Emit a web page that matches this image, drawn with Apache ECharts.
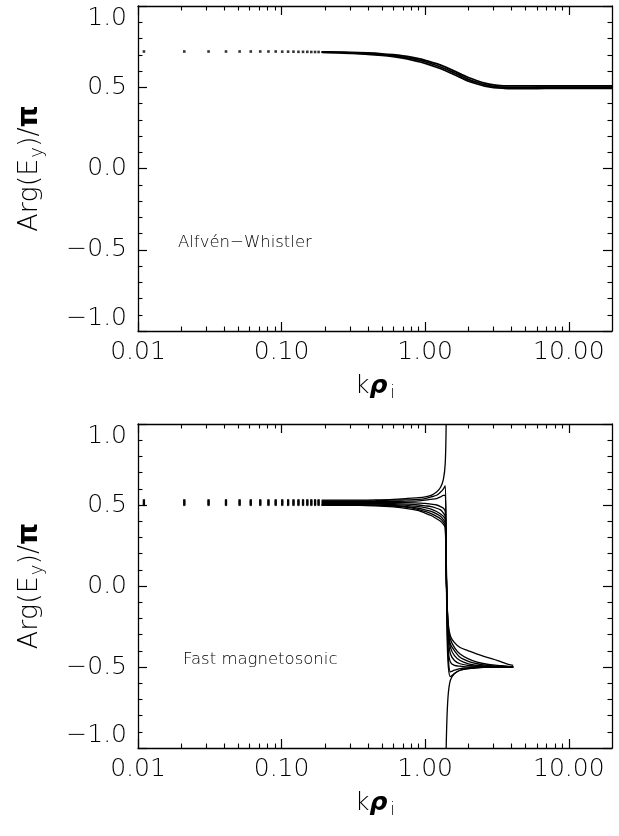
<!DOCTYPE html>
<html>
<head>
<meta charset="utf-8">
<script src="https://cdn.jsdelivr.net/npm/echarts@6/dist/echarts.min.js"></script>
<style>
html,body{margin:0;padding:0;background:#fff;}
#c{width:619px;height:836px;}
</style>
</head>
<body>
<div id="c"></div>
<script>
// ---------- data ----------
const xMajorTicks = [0.01, 0.1, 1, 10];
const xMinorTicks = [0.02,0.03,0.04,0.05,0.06,0.07,0.08,0.09,0.2,0.3,0.4,0.5,0.6,0.7,0.8,0.9,2,3,4,5,6,7,8,9];
const yTicks = [-1, -0.5, 0, 0.5, 1];

// sparse low-k samples (individual dots)
const kDots = [0.011,0.021,0.031,0.041,0.051,0.061,0.071,0.081,0.091,0.101,0.111,0.121,0.131,0.141,0.151,0.161,0.171,0.181];

// Alfven-Whistler panel
const alfvenDots = [0.72,0.72,0.72,0.72,0.72,0.72,0.72,0.72,0.72,0.719,0.719,0.719,0.718,0.718,0.718,0.717,0.717,0.717];
const kAlfven = [0.19,0.25,0.3,0.4,0.5,0.6,0.7,0.8,0.9,1.0,1.2,1.4,1.6,1.8,2.0,2.3,2.6,3.0,3.5,4.0,5.0,6.0,8.0,10,13,16,20];
const alfvenUpper = [0.718,0.716,0.715,0.711,0.706,0.700,0.693,0.685,0.676,0.666,0.645,0.622,0.599,0.578,0.560,0.540,0.525,0.514,0.509,0.508,0.508,0.509,0.509,0.509,0.508,0.508,0.508];
const alfvenMid   = [0.716,0.714,0.712,0.707,0.701,0.694,0.686,0.677,0.667,0.657,0.634,0.611,0.588,0.567,0.549,0.530,0.516,0.506,0.501,0.499,0.499,0.500,0.500,0.500,0.500,0.500,0.500];
const alfvenLower = [0.714,0.712,0.709,0.703,0.696,0.688,0.679,0.669,0.658,0.647,0.623,0.600,0.577,0.556,0.538,0.520,0.507,0.498,0.494,0.492,0.492,0.492,0.493,0.493,0.493,0.493,0.493];

// Fast magnetosonic panel
const fastDotLevels = [0.53,0.525,0.52,0.515,0.51,0.505,0.50];
const kFast = [0.19,0.3,0.45,0.6,0.75,0.9,1.0,1.1,1.2,1.28,1.34,1.38,1.40,1.42,1.45,1.5,1.6,1.75,2.0,2.3,2.7,3.2,3.7,4.1];
const fast1a = [0.53,0.53,0.532,0.535,0.54,0.545,0.55,0.56,0.58,0.61,0.66,0.76,1.0];               // up to k=1.40, wraps
const fast1b = [-1.0,-0.8,-0.66,-0.58,-0.54,-0.52,-0.51,-0.503,-0.5,-0.5,-0.5,-0.5];             // from k=1.40
const fast2 = [0.525,0.525,0.527,0.53,0.532,0.535,0.54,0.55,0.56,0.58,0.60,0.62,0.2,-0.3,-0.5,-0.56,-0.54,-0.52,-0.51,-0.505,-0.5,-0.5,-0.5,-0.5];
const fast3 = [0.52,0.52,0.52,0.522,0.524,0.526,0.53,0.535,0.54,0.55,0.56,0.56,0.25,-0.2,-0.45,-0.53,-0.52,-0.51,-0.505,-0.5,-0.5,-0.5,-0.5,-0.5];
const fast4 = [0.515,0.515,0.515,0.515,0.515,0.512,0.51,0.505,0.5,0.49,0.48,0.46,0.2,-0.15,-0.4,-0.47,-0.49,-0.495,-0.5,-0.5,-0.5,-0.5,-0.5,-0.5];
const fast5 = [0.51,0.51,0.51,0.508,0.505,0.5,0.495,0.49,0.48,0.47,0.45,0.43,0.15,-0.15,-0.33,-0.42,-0.46,-0.48,-0.49,-0.495,-0.5,-0.5,-0.5,-0.5];
const fast6 = [0.505,0.505,0.505,0.502,0.498,0.49,0.484,0.475,0.46,0.445,0.43,0.41,0.1,-0.1,-0.3,-0.38,-0.43,-0.46,-0.48,-0.49,-0.495,-0.5,-0.5,-0.5];
const fast7 = [0.50,0.50,0.50,0.497,0.49,0.48,0.47,0.46,0.445,0.43,0.41,0.39,0.1,-0.1,-0.28,-0.36,-0.40,-0.44,-0.465,-0.48,-0.49,-0.495,-0.5,-0.5];
const fast8 = [0.50,0.50,0.498,0.493,0.485,0.472,0.46,0.447,0.43,0.415,0.395,0.375,0.1,-0.1,-0.26,-0.33,-0.38,-0.42,-0.45,-0.47,-0.483,-0.49,-0.495,-0.5];
const fast9 = [0.50,0.50,0.495,0.488,0.478,0.465,0.45,0.435,0.415,0.40,0.38,0.36,0.05,-0.1,-0.24,-0.31,-0.35,-0.38,-0.40,-0.42,-0.44,-0.46,-0.48,-0.49];

const labelAlfven = 'Alfvén−Whistler';
const labelFast = 'Fast magnetosonic';

// ---------- chart ----------
const FONT = 'DejaVu Sans';
const FW = 200;
const chart = echarts.init(document.getElementById('c'), null, {renderer: 'canvas'});

const grids = [
  {left: 138, top: 6, width: 474, height: 325},
  {left: 138, top: 424, width: 474, height: 324}
];

function xAxes(gi) {
  const base = {type: 'log', logBase: 10, min: 0.01, max: 20, gridIndex: gi, splitLine: {show: false}};
  const line = {show: true, onZero: false, lineStyle: {color: '#000', width: 1.3}};
  const noLine = {show: false, onZero: false};
  return [
    Object.assign({}, base, {
      position: 'bottom', axisLine: line,
      axisTick: {show: true, inside: true, length: 9, lineStyle: {color: '#000', width: 1.2}, customValues: xMajorTicks},
      axisLabel: {show: true, customValues: xMajorTicks, margin: 9, color: '#000', fontFamily: FONT, fontSize: 25, fontWeight: FW,
        formatter: v => Number(v).toFixed(2)},
      name: '{k|k}{r|ρ}{s|i}', nameLocation: 'middle', nameGap: 40,
      nameTextStyle: {rich: {
        k: {fontFamily: FONT, fontSize: 25, fontWeight: FW, color: '#000'},
        r: {fontFamily: FONT, fontSize: 25, fontWeight: 'bold', fontStyle: 'italic', color: '#000'},
        s: {fontFamily: FONT, fontSize: 17, fontWeight: FW, color: '#000', verticalAlign: 'bottom', padding: [14, 0, 0, 3]}
      }}
    }),
    Object.assign({}, base, {
      position: 'bottom', axisLine: noLine,
      axisTick: {show: true, inside: true, length: 4.5, lineStyle: {color: '#000', width: 1.1}, customValues: xMinorTicks},
      axisLabel: {show: false}
    }),
    Object.assign({}, base, {
      position: 'top', axisLine: line,
      axisTick: {show: true, inside: true, length: 9, lineStyle: {color: '#000', width: 1.2}, customValues: xMajorTicks},
      axisLabel: {show: false}
    }),
    Object.assign({}, base, {
      position: 'top', axisLine: noLine,
      axisTick: {show: true, inside: true, length: 4.5, lineStyle: {color: '#000', width: 1.1}, customValues: xMinorTicks},
      axisLabel: {show: false}
    })
  ];
}

function yAxes(gi) {
  const base = {type: 'value', min: -1, max: 1, interval: 0.5, gridIndex: gi, splitLine: {show: false},
    axisLine: {show: true, onZero: false, lineStyle: {color: '#000', width: 1.3}},
    axisTick: {show: true, inside: true, length: 9, lineStyle: {color: '#000', width: 1.2}},
    minorTick: {show: true, splitNumber: 5, length: 4.5, lineStyle: {color: '#000', width: 1.1}}};
  return [
    Object.assign({}, base, {
      position: 'left',
      axisLabel: {show: true, margin: 11, color: '#000', fontFamily: FONT, fontSize: 25, fontWeight: FW,
        verticalAlignMaxLabel: 'top', verticalAlignMinLabel: 'bottom',
        formatter: v => (v < 0 ? '−' : '') + Math.abs(v).toFixed(1)},
      name: 'Arg(E{s|y})/{p|π}', nameLocation: 'middle', nameGap: 92, nameRotate: 90,
      nameTextStyle: {fontFamily: FONT, fontSize: 27, fontWeight: FW, color: '#000', rich: {
        s: {fontFamily: FONT, fontSize: 18, fontWeight: FW, color: '#000', verticalAlign: 'bottom', padding: [15, 0, 0, 1]},
        p: {fontFamily: FONT, fontSize: 28, fontWeight: 'bold', color: '#000'}
      }}
    }),
    Object.assign({}, base, {position: 'right', axisLabel: {show: false}})
  ];
}

const xs = xAxes(0).concat(xAxes(1));
const ys = yAxes(0).concat(yAxes(1));

function pairs(ks, vals, offset) {
  return vals.map((v, i) => [ks[i + (offset || 0)], v]);
}

const series = [];
function addLine(gi, ks, vals, offset, width) {
  series.push({type: 'line', xAxisIndex: gi * 4, yAxisIndex: gi * 2, data: pairs(ks, vals, offset),
    showSymbol: false, smooth: 0.3, lineStyle: {color: '#000', width: width || 1.4}, silent: true, animation: false, z: 3});
}
function addDots(gi, ks, vals, size) {
  series.push({type: 'scatter', xAxisIndex: gi * 4, yAxisIndex: gi * 2, data: pairs(ks, vals),
    symbol: 'rect', symbolSize: size || 2.6, itemStyle: {color: '#000'}, silent: true, animation: false, z: 3});
}

// top panel
addDots(0, kDots, alfvenDots, 2.6);
addLine(0, kAlfven, alfvenUpper, 0, 1.8);
addLine(0, kAlfven, alfvenMid, 0, 1.8);
addLine(0, kAlfven, alfvenLower, 0, 1.8);

// bottom panel
fastDotLevels.forEach(lv => addDots(1, kDots, kDots.map(() => lv), 2.2));
addLine(1, kFast, fast1a, 0, 1.3);
addLine(1, kFast, fast1b, 12, 1.3);
[fast2, fast3, fast4, fast5, fast6, fast7, fast8, fast9].forEach(arr => addLine(1, kFast, arr, 0, 1.3));

const option = {
  backgroundColor: '#fff',
  animation: false,
  grid: grids,
  xAxis: xs,
  yAxis: ys,
  series: series,
  graphic: [
    {type: 'text', left: 178, top: 234, style: {text: labelAlfven, fontFamily: FONT, fontSize: 16.5, fontWeight: FW, fill: '#000'}},
    {type: 'text', left: 183, top: 651, style: {text: labelFast, fontFamily: FONT, fontSize: 16.5, fontWeight: FW, fill: '#000'}}
  ]
};
chart.setOption(option);
</script>
</body>
</html>
